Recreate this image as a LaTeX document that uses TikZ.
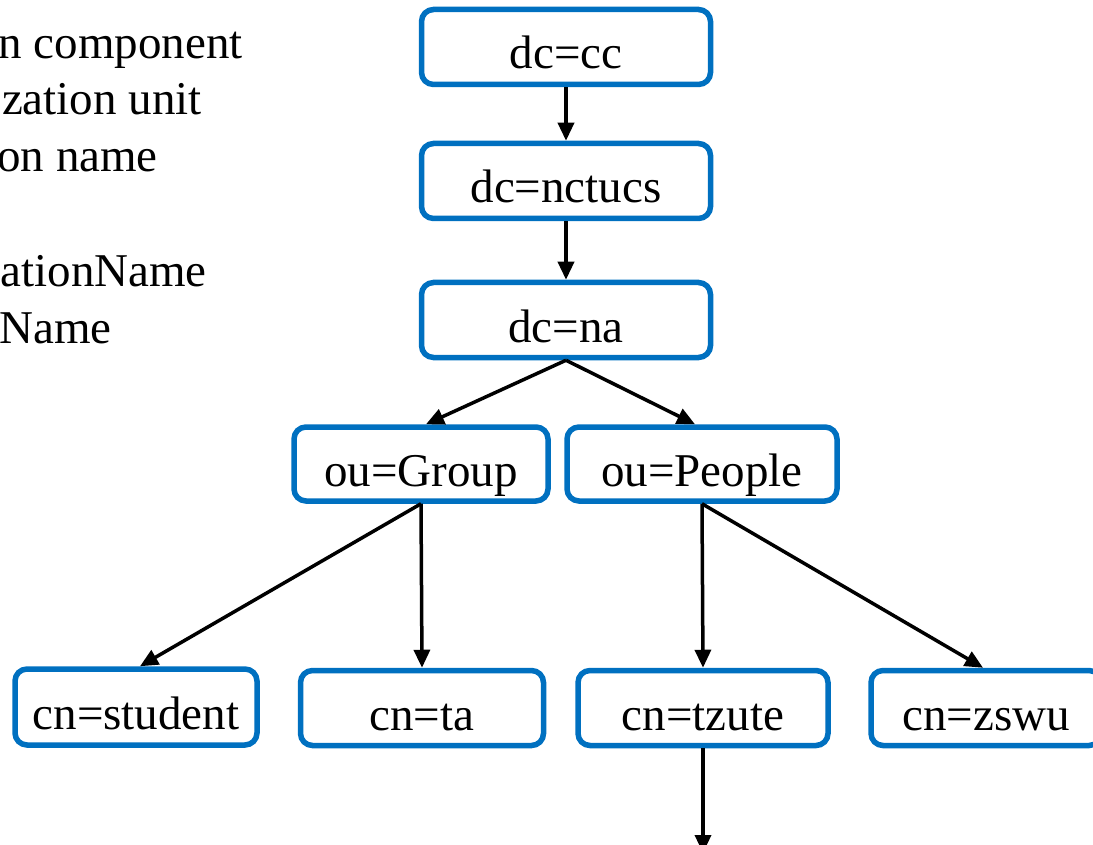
\documentclass[tikz,border=0pt]{standalone}
\usepackage{fontspec}
\setmainfont{Liberation Serif}
\usetikzlibrary{arrows.meta}
\definecolor{boxblue}{RGB}{0,112,192}
\begin{document}
\begin{tikzpicture}[x=1pt,y=-1pt,
  entry/.style={draw=boxblue, line width=5.5pt, rounded corners=12pt, fill=white,
    minimum height=75pt, inner sep=0pt, text height=46pt, text depth=2pt,
    font=\fontsize{47}{56}\selectfont},
  link/.style={line width=3.5pt, -{Triangle[length=18pt,width=16pt]}},
  legend/.style={anchor=base east, inner sep=0pt, font=\fontsize{47}{56}\selectfont}]
\useasboundingbox (0,0) rectangle (1093,845);

% legend lines, running in from the left edge
\node[legend] (l1) at (243,59)  {n component};
\node[legend] (l2) at (202,115) {zation unit};
\node[legend] (l3) at (158,172) {on name};
\node[legend] (l4) at (207,287) {ationName};
\node[legend] (l5) at (112,343) {Name};

% directory tree
\node[entry, minimum width=289pt] (cc)  at (566,47)  {dc=cc};
\node[entry, minimum width=289pt] (nct) at (566,181) {dc=nctucs};
\node[entry, minimum width=289pt] (na)  at (566,320) {dc=na};
\node[entry, minimum width=254pt, minimum height=74pt] (grp) at (421,464) {ou=Group};
\node[entry, minimum width=270pt, minimum height=74pt] (ppl) at (702,464) {ou=People};
\node[entry, minimum width=242pt, minimum height=76pt] (stu) at (136,707) {cn=student};
\node[entry, minimum width=243pt] (ta)  at (422,708) {cn=ta};
\node[entry, minimum width=250pt] (tz)  at (703,708) {cn=tzute};
\node[entry, minimum width=230pt] (zs)  at (986,708) {cn=zswu};
\coordinate (down) at (703,853);

\draw[link] (cc) -- (nct);
\draw[link] (nct) -- (na);
\draw[link] (na.south) -- ([xshift=5pt]grp.north);
\draw[link] (na.south) -- ([xshift=-7pt]ppl.north);
\draw[link] (grp.south) -- ([xshift=4pt]stu.north);
\draw[link] (grp.south) -- (ta.north);
\draw[link] (ppl.south) -- (tz.north);
\draw[link] (ppl.south) -- ([xshift=-3pt]zs.north);
\draw[link] (tz.south) -- (down);
\end{tikzpicture}
\end{document}
